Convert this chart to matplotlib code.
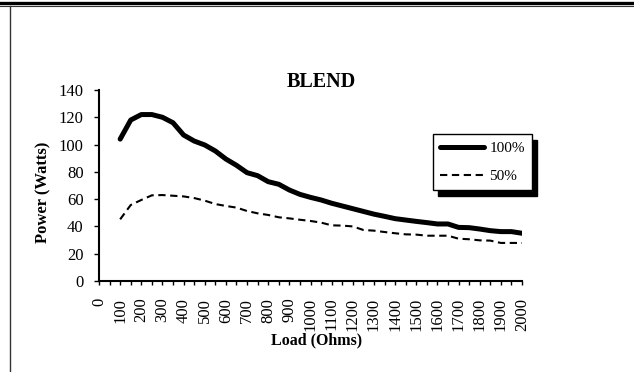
import matplotlib
matplotlib.use("Agg")
import matplotlib.pyplot as plt
from matplotlib.lines import Line2D
import numpy as np

plt.rcParams['font.family'] = ['Liberation Serif', 'DejaVu Serif']

# load in ohms, power in watts
load = list(range(100, 2001, 50))
power_100 = [104, 118, 122, 122, 120, 116, 107, 102.6, 99.7, 95.3, 89.4, 84.8, 79.4,
             77.2, 72.8, 70.9, 66.7, 63.5, 61.3, 59.4, 57, 55, 53, 51, 49, 47.4, 45.7,
             44.7, 43.7, 42.8, 41.8, 41.8, 39.3, 39.1, 38.1, 36.9, 36.2, 36.2, 35]
power_50 = [45.2, 55.7, 59.4, 62.8, 63, 62.5, 62, 60.8, 58.9, 56.4, 55, 53.8, 51.3,
            49.6, 48.4, 46.7, 45.9, 44.9, 44, 42.8, 40.8, 40.6, 40, 37.4, 36.9, 35.9,
            35, 34.2, 34, 33.2, 33.2, 33.2, 31, 30.6, 29.8, 29.6, 27.9, 27.9, 27.9]
x_ticks = list(range(0, 2001, 100))
y_ticks = list(range(0, 141, 20))


def main():
    fig = plt.figure(figsize=(6.34, 3.72), dpi=100)
    W, H = 634, 372

    # page frame: double rule at top, line down the left
    fig.add_artist(Line2D([0, 1], [1 - 3 / H, 1 - 3 / H], color='black', lw=2.4))
    fig.add_artist(Line2D([0, 1], [1 - 6 / H, 1 - 6 / H], color='#333333', lw=0.8))
    fig.add_artist(Line2D([10 / W, 10 / W], [0, 1 - 6 / H], color='#333333', lw=1.0))

    ax = fig.add_axes([99 / W, 1 - 281 / H, 423 / W, 191 / H])
    ax.plot(load, power_100, color='black', lw=3.6, solid_capstyle='round',
            solid_joinstyle='round', label='100%')
    ax.plot(load, power_50, color='black', lw=1.5, dashes=(3.5, 2.2), label='50%')

    ax.set_xlim(0, 2000)
    ax.set_ylim(0, 140)
    ax.set_xticks(x_ticks)
    ax.set_xticklabels([str(t) for t in x_ticks], rotation=90, fontsize=12)
    ax.set_xticks(range(50, 2000, 100), minor=True)
    ax.set_yticks(y_ticks)
    ax.set_yticklabels([str(t) for t in y_ticks], fontsize=12)
    ax.tick_params(axis='x', which='both', direction='out', length=3, width=1)
    ax.tick_params(axis='x', which='major', pad=9)
    ax.tick_params(axis='y', direction='out', length=3.6, width=1, pad=7.5)

    for side in ('top', 'right'):
        ax.spines[side].set_visible(False)
    for side in ('left', 'bottom'):
        ax.spines[side].set_linewidth(1.5)

    fig.text(321 / W, 1 - 82 / H, 'BLEND', fontsize=14.5, fontweight='bold',
             ha='center', va='center')
    fig.text(316.7 / W, 1 - 340 / H, 'Load (Ohms)', fontsize=11.5, fontweight='bold',
             ha='center', va='center')
    fig.text(43 / W, 1 - 192 / H, 'Power (Watts)', fontsize=12, fontweight='bold',
             ha='center', va='center', rotation=90)

    leg = ax.legend(loc='upper left', bbox_to_anchor=(432.7 / W, 1 - 134.3 / H),
                    bbox_transform=fig.transFigure, borderaxespad=0,
                    fancybox=False, framealpha=1, edgecolor='black',
                    fontsize=11, handlelength=2.9, handletextpad=0.35,
                    borderpad=0.45, labelspacing=0.95,
                    shadow={'ox': 4, 'oy': -4, 'color': 'black', 'alpha': 1})
    leg.get_frame().set_linewidth(1.0)

    fig.savefig('out.png', dpi=100)


if __name__ == "__main__":
    main()
